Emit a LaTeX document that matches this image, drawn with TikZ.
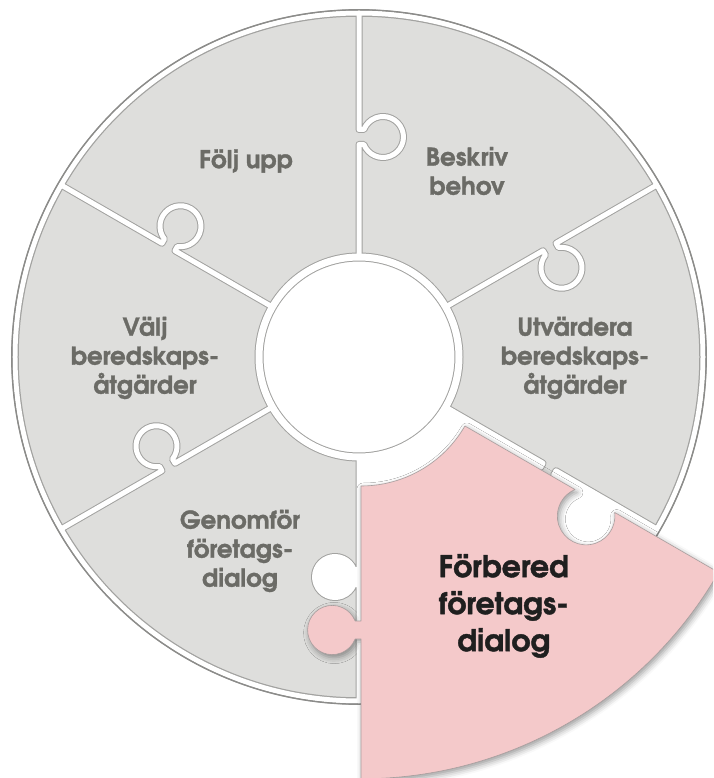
\documentclass[tikz,border=0pt]{standalone}
\usepackage{fontspec}
\setmainfont{texgyreadventor}[Extension=.otf,UprightFont=*-regular,BoldFont=*-bold,ItalicFont=*-italic,BoldItalicFont=*-bolditalic,BoldFeatures={FakeBold=1.3}]
\usetikzlibrary{shadows.blur}

\definecolor{piecegray}{HTML}{DEDEDC}
\definecolor{edgegray}{HTML}{A2A2A0}
\definecolor{rimgray}{HTML}{8C8C8A}
\definecolor{labelgray}{HTML}{6B6B66}
\definecolor{piecepink}{HTML}{F4C9CA}
\definecolor{pinkedge}{HTML}{A89E9E}

% ring and knob dimensions
\def\rin{100}     % inner radius of the ring
\def\rout{344}    % outer radius of the ring
\def\ka{220}      % distance of a knob from the centre
\def\kw{7.5}      % half width of a knob neck
\def\kv{4.9}      % neck length
\def\kr{20.5}     % knob radius
\def\kal{21.46}   % asin(kw/kr)

% point on the ray at angle #1, distance #2, offset #3 to the clockwise side
\newcommand\ringpt[3]{({(#2)*cos(#1)+(#3)*sin(#1)},{(#2)*sin(#1)-(#3)*cos(#1)})}
% divider from inner to outer radius with a knob on its clockwise side
\newcommand\knobout[1]{-- \ringpt{#1}{\ka-\kw}{0} -- \ringpt{#1}{\ka-\kw}{\kv}
  arc[start angle={#1+90+\kal}, end angle={#1+450-\kal}, radius=\kr]
  -- \ringpt{#1}{\ka+\kw}{0} -- \ringpt{#1}{\rout}{0}}
% the same divider followed from outer to inner radius
\newcommand\knobin[1]{-- \ringpt{#1}{\ka+\kw}{0} -- \ringpt{#1}{\ka+\kw}{\kv}
  arc[start angle={#1+90-\kal}, end angle={#1-270+\kal}, radius=\kr]
  -- \ringpt{#1}{\ka-\kw}{0} -- \ringpt{#1}{\rin}{0}}
\newcommand\divider[1]{\ringpt{#1}{\rin}{0} \knobout{#1}}
% slot between -90 and -30 degrees left by the lifted piece
\newcommand\pinkslot{\ringpt{-90}{\rin}{0} \knobout{-90}
  arc[start angle=-90, end angle=-30, radius=\rout] \knobin{-30}
  arc[start angle=-30, end angle=-90, radius=\rin] -- cycle}
% the lifted piece, with a wide round socket on its upper edge
\newcommand\pinkpiece{\ringpt{-90}{\rin}{0} \knobout{-90}
  arc[start angle=-90, end angle=-30, radius=\rout]
  -- \ringpt{-30}{244.12}{0} arc[start angle=7.17, end angle=-247.17, radius=24]
  -- \ringpt{-30}{\rin}{0}
  arc[start angle=-30, end angle=-90, radius=\rin] -- cycle}

\tikzset{
  gapouter/.style={draw=edgegray, line width=7pt},
  gapinner/.style={draw=white, line width=5pt},
  lbl/.style={font=\bfseries\fontsize{24.5}{29}\selectfont, text=labelgray,
    align=center, inner sep=0pt},
  lblhot/.style={font=\bfseries\fontsize{30}{37}\selectfont, text=black!88,
    align=center, inner sep=0pt},
}

\begin{document}
\begin{tikzpicture}[x=1pt, y=1pt, line join=round]
\useasboundingbox (-359,-421) rectangle (354,357);
\clip (-359,-421) rectangle (354,357);

% ring body
\fill[piecegray] (0,0) circle (\rout);
\fill[white] (0,0) circle (\rin);

% gaps between the pieces: grey edges first, white cores on top
\foreach \a in {90,30,-30,-90,-150,150}
  \path[gapouter] \divider{\a};
\draw[edgegray, line width=9pt] (0,0) circle (\rin);
\draw[edgegray, line width=7.5pt] (0,0) circle (\rout);
\foreach \a in {90,30,-30,-90,-150,150}
  \path[gapinner] \divider{\a};
\draw[white, line width=7pt] (0,0) circle (\rin);
\draw[white, line width=5pt] (0,0) circle (\rout);
\draw[rimgray, line width=1.4pt] (0,0) circle (347.2);

% the empty slot of the lifted piece
\fill[white] \pinkslot;

% lifted piece
\begin{scope}[shift={(2,-9)}, scale=1.2]
  \path[fill=piecepink, draw=pinkedge, line width=0.6pt,
    blur shadow={shadow xshift=2pt, shadow yshift=-3pt,
      shadow blur radius=6pt, shadow opacity=40}] \pinkpiece;
  \node[lblhot] (forbered) at (119,-200) {Förbered\\företags-\\dialog};
\end{scope}

% labels
\node[lbl] (foljupp)   at (-113,196) {Följ upp};
\node[lbl] (beskriv)   at (108,186)  {Beskriv\\behov};
\node[lbl] (valj)      at (-214,-1)  {Välj\\beredskaps-\\åtgärder};
\node[lbl] (utvardera) at (216,-1)   {Utvärdera\\beredskaps-\\åtgärder};
\node[lbl] (genomfor)  at (-119,-194) {Genomför\\företags-\\dialog};
\end{tikzpicture}
\end{document}
